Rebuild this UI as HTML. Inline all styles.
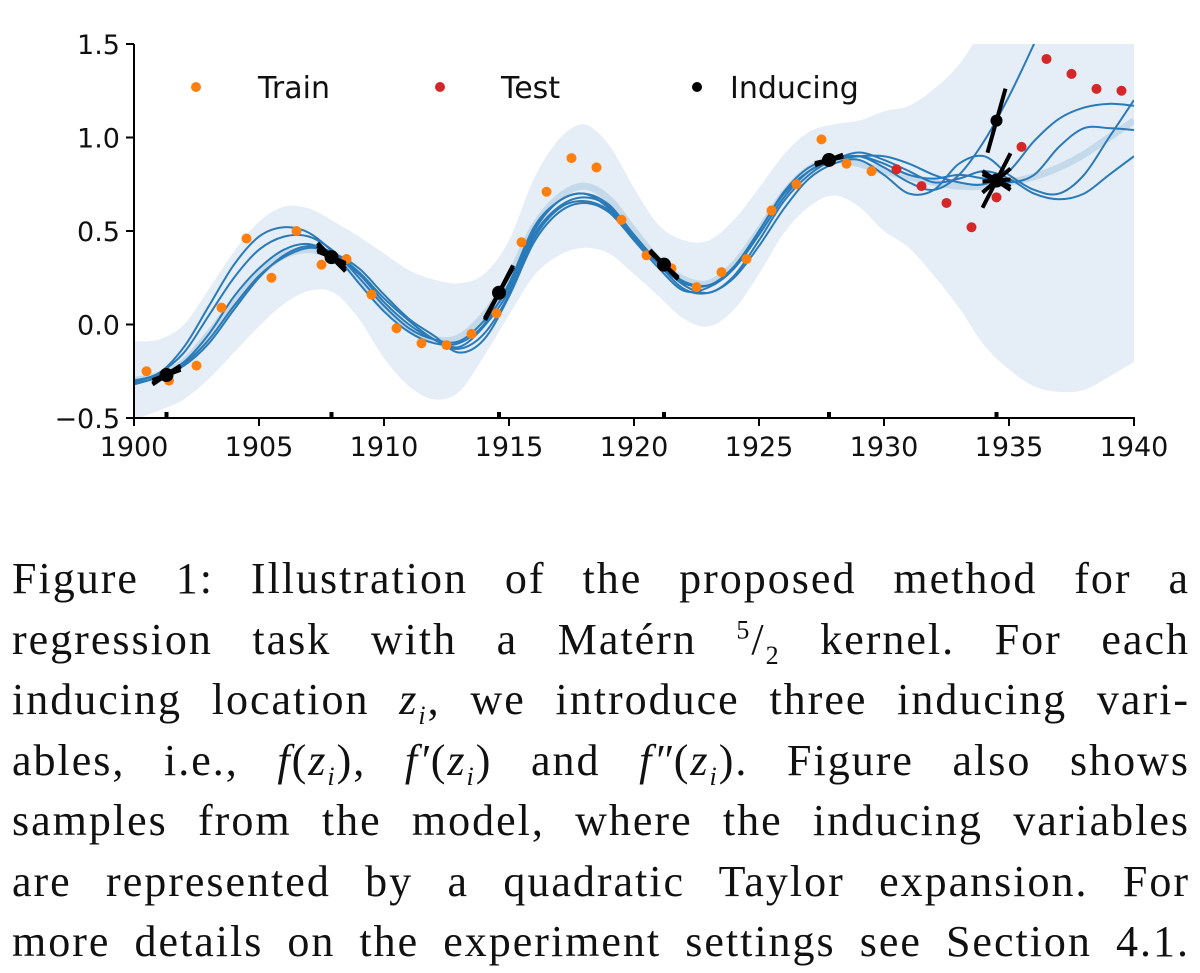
<!DOCTYPE html>
<html><head><meta charset="utf-8"><style>
body{margin:0;background:#fff;width:1200px;height:961px;overflow:hidden;position:relative}
svg{position:absolute;left:0;top:0}
.cap{position:absolute;left:12px;width:1178px;font-family:"Liberation Serif",serif;font-size:44px;letter-spacing:2px;line-height:60.5px;top:549px;color:#111}
.cap div{text-align:justify;text-align-last:justify;white-space:nowrap;height:60.5px}
.cap sub,.cap sup{line-height:0;font-size:26px}
</style></head><body>
<svg id="chart" width="1200" height="520" viewBox="0 0 1200 520"></svg>
<div class="cap">
<div>Figure 1: Illustration of the proposed method for a</div>
<div>regression task with a Matérn <sup>5</sup>/<sub>2</sub> kernel. For each</div>
<div>inducing location <i>z<sub>i</sub></i>, we introduce three inducing vari-</div>
<div>ables, i.e., <i>f</i>(<i>z<sub>i</sub></i>), <i>f′</i>(<i>z<sub>i</sub></i>) and <i>f″</i>(<i>z<sub>i</sub></i>). Figure also shows</div>
<div>samples from the model, where the inducing variables</div>
<div>are represented by a quadratic Taylor expansion. For</div>
<div>more details on the experiment settings see Section 4.1.</div>
</div>
<script>
const years=[];for(let y=1900;y<=1940;y++)years.push(y);
const meanVals=[-0.30,-0.27,-0.20,-0.05,0.12,0.27,0.37,0.40,0.36,0.25,0.10,-0.02,-0.08,-0.07,0.05,0.25,0.52,0.68,0.74,0.67,0.50,0.34,0.24,0.22,0.32,0.50,0.70,0.83,0.88,0.86,0.82,0.79,0.76,0.74,0.74,0.76,0.79,0.84,0.91,1.00,1.09];
const halfWidth=[0.21,0.19,0.2,0.24,0.27,0.28,0.26,0.22,0.19,0.22,0.28,0.31,0.32,0.29,0.22,0.2,0.26,0.31,0.33,0.29,0.23,0.19,0.21,0.23,0.24,0.23,0.21,0.2,0.19,0.23,0.32,0.38,0.5,0.65,0.85,1.0,1.12,1.2,1.26,1.28,1.29];
const sample1=[-0.30,-0.26,-0.12,0.10,0.32,0.47,0.52,0.49,0.38,0.22,0.07,-0.04,-0.10,-0.10,0.00,0.22,0.52,0.66,0.70,0.62,0.46,0.32,0.22,0.21,0.31,0.50,0.71,0.84,0.88,0.90,0.90,0.86,0.80,0.76,0.75,0.82,0.98,1.10,1.16,1.18,1.17];
const sample2=[-0.31,-0.26,-0.15,0.05,0.25,0.40,0.47,0.47,0.39,0.25,0.10,-0.02,-0.08,-0.09,0.02,0.20,0.50,0.66,0.70,0.64,0.48,0.33,0.23,0.21,0.30,0.48,0.68,0.82,0.88,0.92,0.88,0.82,0.76,0.78,0.82,0.78,0.70,0.67,0.70,0.80,0.90];
const sample3=[-0.30,-0.27,-0.20,-0.05,0.15,0.30,0.40,0.43,0.37,0.27,0.12,0.00,-0.08,-0.12,-0.01,0.18,0.48,0.63,0.68,0.63,0.47,0.33,0.21,0.17,0.26,0.45,0.66,0.80,0.88,0.90,0.84,0.76,0.72,0.80,0.98,1.22,1.5,1.8,2.1,2.4,2.7];
const sample4=[-0.32,-0.28,-0.22,-0.10,0.08,0.25,0.37,0.42,0.38,0.28,0.14,0.02,-0.08,-0.13,-0.05,0.16,0.46,0.62,0.66,0.61,0.47,0.32,0.19,0.17,0.25,0.42,0.62,0.78,0.86,0.88,0.80,0.70,0.72,0.86,0.90,0.80,0.72,0.70,0.80,1.0,1.2];
const sample5=[-0.32,-0.28,-0.21,-0.08,0.10,0.26,0.36,0.41,0.38,0.30,0.16,0.03,-0.06,-0.15,-0.08,0.15,0.44,0.60,0.65,0.60,0.45,0.30,0.18,0.20,0.30,0.50,0.70,0.82,0.88,0.90,0.86,0.80,0.78,0.80,0.78,0.76,0.80,0.95,1.05,1.05,1.04];
const trainX=[1900.5,1901.4,1902.5,1903.5,1904.5,1905.5,1906.5,1907.5,1908.5,1909.5,1910.5,1911.5,1912.5,1913.5,1914.5,1915.5,1916.5,1917.5,1918.5,1919.5,1920.5,1921.5,1922.5,1923.5,1924.5,1925.5,1926.5,1927.5,1928.5,1929.5];
const trainY=[-0.25,-0.30,-0.22,0.09,0.46,0.25,0.50,0.32,0.35,0.16,-0.02,-0.10,-0.11,-0.05,0.06,0.44,0.71,0.89,0.84,0.56,0.37,0.30,0.20,0.28,0.35,0.61,0.75,0.99,0.86,0.82];
const testX=[1930.5,1931.5,1932.5,1933.5,1934.5,1935.5,1936.5,1937.5,1938.5,1939.5];
const testY=[0.83,0.74,0.65,0.52,0.68,0.95,1.42,1.34,1.26,1.25];
const inducingX=[1901.3,1907.9,1914.6,1921.2,1927.8,1934.5];
const inducingY=[-0.27,0.36,0.17,0.32,0.88,0.77];
const extraInducingX=[1934.5];const extraInducingY=[1.09];
const xTicks=[1900,1905,1910,1915,1920,1925,1930,1935,1940];
const yTicks=[-0.5,0,0.5,1.0,1.5];
const yTickLabels=["−0.5","0.0","0.5","1.0","1.5"];

const NS="http://www.w3.org/2000/svg";
const svg=document.getElementById('chart');
const X0=134,X1=1134,Y0=418,Y1=44;
const sx=v=>X0+(v-1900)/40*(X1-X0);
const sy=v=>Y0-(v+0.5)/2*(Y0-Y1);
function el(t,a,p){const e=document.createElementNS(NS,t);for(const k in a)e.setAttribute(k,a[k]);(p||svg).appendChild(e);return e;}
function smooth(pts){let d=`M${pts[0][0]},${pts[0][1]}`;for(let i=0;i<pts.length-1;i++){const p0=pts[Math.max(0,i-1)],p1=pts[i],p2=pts[i+1],p3=pts[Math.min(pts.length-1,i+2)];
d+=` C${p1[0]+(p2[0]-p0[0])/6},${p1[1]+(p2[1]-p0[1])/6} ${p2[0]-(p3[0]-p1[0])/6},${p2[1]-(p3[1]-p1[1])/6} ${p2[0]},${p2[1]}`;}return d;}
const defs=el('defs',{});const cp=el('clipPath',{id:'clip'},defs);el('rect',{x:X0,y:Y1,width:X1-X0,height:Y0-Y1},cp);
const g=el('g',{'clip-path':'url(#clip)'});
const up=years.map((y,i)=>[sx(y),sy(meanVals[i]+halfWidth[i])]);
const lo=years.map((y,i)=>[sx(y),sy(meanVals[i]-halfWidth[i])]).reverse();
const bandD=smooth(up)+' L'+smooth(lo).slice(1)+' Z';
const band=el('path',{d:bandD,fill:'#e5edf6'},g);


const mean=el('path',{d:smooth(years.map((y,i)=>[sx(y),sy(meanVals[i])])),fill:'none',stroke:'#c4d9ea','stroke-width':7},g);


[sample1,sample2,sample3,sample4,sample5].forEach((s,k)=>{
 const p=el('path',{d:smooth(years.map((y,i)=>[sx(y),sy(s[i])])),fill:'none',stroke:'#2a7ab8','stroke-width':2},g);
 
 
});
trainX.forEach((x,i)=>{const c=el('circle',{cx:sx(x),cy:sy(trainY[i]),r:5,fill:'#ff7f0e'},g);
 
 });
testX.forEach((x,i)=>{const c=el('circle',{cx:sx(x),cy:sy(testY[i]),r:5,fill:'#d62728'},g);
 
 });
inducingX.forEach((x,i)=>{
 const cx=sx(x),cy=sy(inducingY[i]);
 const idx=Math.round(x-1900);
 const slopes=[sample1,sample2,sample3,sample4,sample5].map(s=>(s[Math.min(40,idx+1)]-s[Math.max(0,idx-1)])/2);
 const gg=el('g',{},g);
 
 
 slopes.forEach(m=>{const dx=14,dy=-m*187/25*dx;el('line',{x1:cx-dx,y1:cy-dy,x2:cx+dx,y2:cy+dy,stroke:'#000','stroke-width':4},gg);});
 el('circle',{cx,cy,r:7,fill:'#000'},gg);
 const t=el('rect',{x:cx-2,y:Y0-6,width:4,height:6,fill:'#000'});
 
 
});
extraInducingX.forEach((x,i)=>{const cx=sx(x),cy=sy(extraInducingY[i]);
 const l=el('line',{x1:cx-9,y1:cy+32,x2:cx+9,y2:cy-32,stroke:'#000','stroke-width':4},g);
 
 
 const c=el('circle',{cx,cy,r:6,fill:'#000'},g);
 
 });
const ax=el('line',{x1:X0,y1:Y0,x2:X1+1,y2:Y0,stroke:'#000','stroke-width':2});

const ay=el('line',{x1:X0,y1:Y1,x2:X0,y2:Y0+1,stroke:'#000','stroke-width':2});

xTicks.forEach(v=>{el('line',{x1:sx(v),y1:Y0,x2:sx(v),y2:Y0+8,stroke:'#000','stroke-width':2});
 const t=el('text',{x:sx(v),y:Y0+38,'text-anchor':'middle','font-family':'DejaVu Sans, sans-serif','font-size':27,fill:'#111'});t.textContent=v;
 });
yTicks.forEach((v,i)=>{el('line',{x1:X0-8,y1:sy(v),x2:X0,y2:sy(v),stroke:'#000','stroke-width':2});
 const t=el('text',{x:X0-14,y:sy(v)+10,'text-anchor':'end','font-family':'DejaVu Sans, sans-serif','font-size':27,fill:'#111'});t.textContent=yTickLabels[i];
 });
[["Train","#ff7f0e",196,258],["Test","#d62728",440,501],["Inducing","#000",697,730]].forEach(([n,c,mx,tx])=>{
 const gg=el('g',{});
 el('circle',{cx:mx,cy:87,r:5,fill:c},gg);
 const t=el('text',{x:tx,y:98,'font-family':'DejaVu Sans, sans-serif','font-size':30,fill:'#111'},gg);t.textContent=n;});
</script>
</body></html>
